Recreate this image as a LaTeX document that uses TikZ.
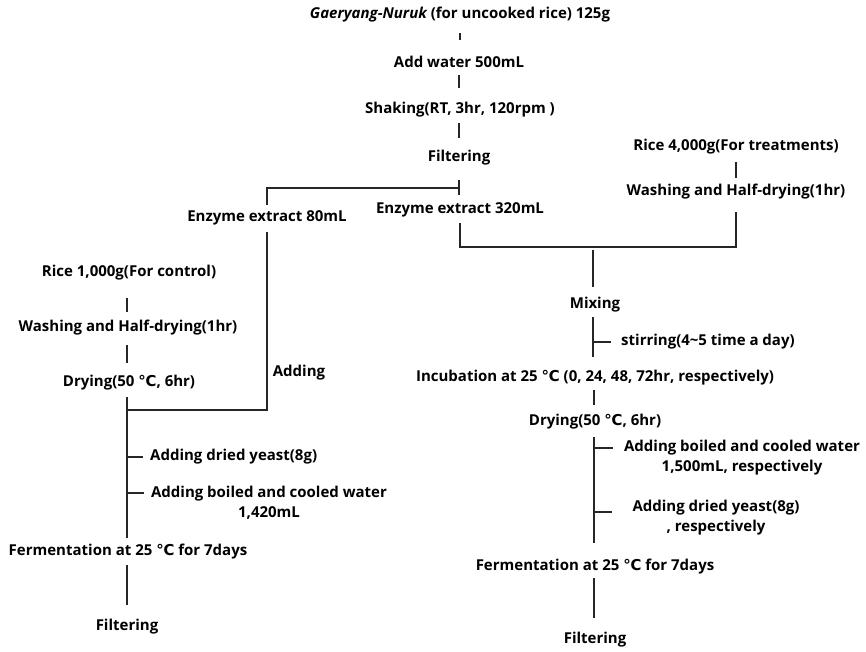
\documentclass[tikz,border=0pt]{standalone}
\usepackage{fontspec}
\setmainfont{Open Sans}
\newfontfamily\degfont{DejaVu Sans}
\usetikzlibrary{positioning,calc}
\newcommand{\degC}{{\degfont ℃}}
\tikzset{
  lbl/.style={font=\bfseries\fontsize{15}{20}\selectfont,inner sep=2pt,align=center},
  ln/.style={line width=1.4pt,draw=black!85},
  vl/.style 2 args={ln,shorten <=#1pt,shorten >=#2pt},
}

\begin{document}
\begin{tikzpicture}[x=1pt,y=-1pt]
\useasboundingbox (0,0) rectangle (866,652);
\node[lbl] (nuruk) at (460,15) {{\itshape Gaeryang-Nuruk} (for uncooked rice) 125g};
\node[lbl] (water) at (459,62) {Add water 500mL};
\node[lbl] (shake) at (460,110) {Shaking(RT, 3hr, 120rpm )};
\node[lbl] (filt) at (459,158) {Filtering};
\node[lbl] (ext320) at (460,210) {Enzyme extract 320mL};
\node[lbl] (ext80) at (267,218) {Enzyme extract 80mL};
\node[lbl] (rice4) at (736,147) {Rice 4,000g(For treatments)};
\node[lbl] (wash4) at (736,192) {Washing and Half-drying(1hr)};
\node[lbl] (rice1) at (129,273) {Rice 1,000g(For control)};
\node[lbl] (wash1) at (128,328) {Washing and Half-drying(1hr)};
\node[lbl] (dry1) at (129,383) {Drying(50 \degC, 6hr)};
\node[lbl] (addl) at (299,373) {Adding};
\node[lbl,anchor=west] (yeast1) at (148,457) {Adding dried yeast(8g)};
\node[lbl] (water1) at (269,503) {Adding boiled and cooled water\\1,420mL};
\node[lbl] (ferm1) at (128,552) {Fermentation at 25 \degC{} for 7days};
\node[lbl] (filt1) at (127,627) {Filtering};
\node[lbl] (mix) at (595,305) {Mixing};
\node[lbl,anchor=west] (stir) at (619,342) {stirring(4\textasciitilde5 time a day)};
\node[lbl] (incub) at (595,378) {Incubation at 25 \degC{} (0, 24, 48, 72hr, respectively)};
\node[lbl] (dry4) at (595,422) {Drying(50 \degC, 6hr)};
\node[lbl] (water4) at (742,458) {Adding boiled and cooled water\\1,500mL, respectively};
\node[lbl] (yeast4) at (716,518) {Adding dried yeast(8g)\\, respectively};
\node[lbl] (ferm4) at (595,567) {Fermentation at 25 \degC{} for 7days};
\node[lbl] (filt4) at (595,640) {Filtering};

\coordinate (sp) at (459,188);
\coordinate (j1) at (127,410);
\coordinate (m) at (593,247);
\coordinate (t1) at (127,457);
\coordinate (t2) at (127,493);
\coordinate (t3) at (593,342);
\coordinate (t4) at (594,448);
\coordinate (t5) at (594,512);

\draw[vl={18}{22}] (nuruk.center) -- (nuruk.center |- water.center);
\draw[vl={13}{22}] (water.center) -- (water.center |- shake.center);
\draw[vl={13}{20}] (filt.center |- shake.center) -- (filt.center);
\draw[vl={22}{15}] (filt.center) -- (filt.center |- ext320.center);
\draw[ln,shorten >=13pt] (sp) -| (ext80.center);
\draw[ln,shorten <=14pt] (ext80.center) |- (j1);
\draw[vl={25}{16}] (j1 |- rice1.center) -- (j1 |- wash1.center);
\draw[vl={17}{20}] (j1 |- wash1.center) -- (j1 |- dry1.center);
\draw[vl={14}{14}] (j1 |- dry1.center) -- (j1 |- ferm1.center);
\draw[ln,shorten >=5pt] (t1) -- (t1 -| yeast1.west);
\draw[ln,shorten >=5pt] (t2) -- (t2 -| water1.west);
\draw[vl={13}{22}] (j1 |- ferm1.center) -- (j1 |- filt1.center);
\draw[vl={15}{14}] (rice4.center) -- (rice4.center |- wash4.center);
\draw[ln,shorten <=20pt] (wash4.center) |- (m);
\draw[ln,shorten <=13pt] (ext320.center) |- (m);
\draw[vl={3}{18}] (m) -- (m |- mix.center);
\draw[vl={12}{21}] (m |- mix.center) -- (m |- incub.center);
\draw[ln,shorten >=8pt] (t3) -- (t3 -| stir.west);
\draw[vl={12}{17}] (t4 |- incub.center) -- (t4 |- dry4.center);
\draw[vl={15}{24}] (t4 |- dry4.center) -- (t4 |- ferm4.center);
\draw[ln,shorten >=9pt] (t4) -- (t4 -| water4.west);
\draw[ln,shorten >=18pt] (t5) -- (t5 -| yeast4.west);
\draw[vl={11}{22}] (t4 |- ferm4.center) -- (t4 |- filt4.center);
\end{tikzpicture}
\end{document}
